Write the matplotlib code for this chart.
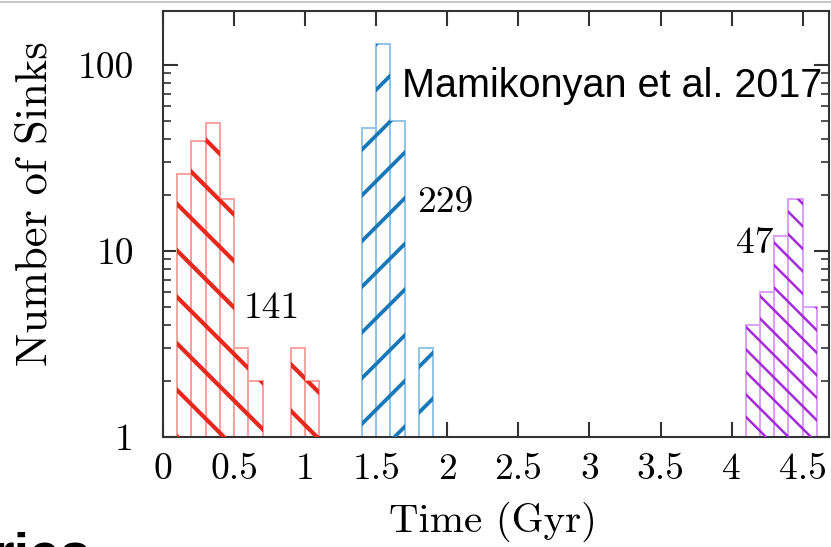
import numpy as np
import matplotlib
matplotlib.use('Agg')
import matplotlib.pyplot as plt
from matplotlib.collections import LineCollection
from matplotlib.lines import Line2D
from matplotlib.ticker import FixedLocator, FixedFormatter, LogLocator, NullFormatter

# histogram data (bin left edges in Gyr, counts)
red_left = [0.1, 0.2, 0.3, 0.4, 0.5, 0.6, 0.9, 1.0]
red_counts = [26, 39, 49, 19, 3, 2, 3, 2]
blue_left = [1.4, 1.5, 1.6, 1.8]
blue_counts = [46, 130, 50, 3]
purple_left = [4.1, 4.2, 4.3, 4.4, 4.5]
purple_counts = [4, 6, 12, 19, 5]
bin_width = 0.1

xtick_vals = [0, 0.5, 1, 1.5, 2, 2.5, 3, 3.5, 4, 4.5]
xtick_labels = ['0', '0.5', '1', '1.5', '2', '2.5', '3', '3.5', '4', '4.5']
ytick_vals = [1, 10, 100]
ytick_labels = ['1', '10', '100']

plt.rcParams['font.family'] = 'cmr10'

W, H = 831, 547
fig = plt.figure(figsize=(W / 100, H / 100), dpi=100)
ax = fig.add_axes([163 / W, 1 - 437 / H, 666 / W, 426 / H])
ax.set_yscale('log')
ax.set_xlim(0, 4.685)
ax.set_ylim(1, 195)

groups = [
    # left, counts, edge colour, hatch colour, slope, spacing px, phase, hatch lw
    (red_left, red_counts, '#f6a3a0', '#e8271d', -1.0, 46.5, 520.0, 3.0),
    (blue_left, blue_counts, '#92c3e6', '#1777b7', 1.0, 45.7, -56.0, 2.7),
    (purple_left, purple_counts, '#dca0f4', '#a42bd8', -1.0, 22.5, 966.0, 1.8),
]

for left, counts, ec, hc, s, d, c0, hlw in groups:
    counts = np.array(counts, dtype=float)
    bars = ax.bar(left, counts - 1, bottom=1, width=bin_width, align='edge',
                  facecolor='none', edgecolor=ec, linewidth=1.4, zorder=2)
    for b in bars:
        (x1, yb), (x2, yt) = ax.transData.transform(
            [(b.get_x(), b.get_y()), (b.get_x() + b.get_width(), b.get_y() + b.get_height())])
        lo = yb - max(s * x1, s * x2)
        hi = yt - min(s * x1, s * x2)
        segs = []
        for k in range(int(np.floor((lo - c0) / d)) - 1, int(np.ceil((hi - c0) / d)) + 2):
            c = c0 + k * d
            p = ax.transData.inverted().transform([(x1 - 5, c + s * (x1 - 5)), (x2 + 5, c + s * (x2 + 5))])
            segs.append(p)
        lc = LineCollection(segs, colors=hc, linewidths=hlw, zorder=3, capstyle='butt')
        ax.add_collection(lc)
        lc.set_clip_path(b)

# axes styling
for sp in ax.spines.values():
    sp.set_color('#333333')
    sp.set_linewidth(1.5)
ax.xaxis.set_major_locator(FixedLocator(xtick_vals))
ax.xaxis.set_major_formatter(FixedFormatter(xtick_labels))
ax.yaxis.set_major_locator(FixedLocator(ytick_vals))
ax.yaxis.set_major_formatter(FixedFormatter(ytick_labels))
ax.yaxis.set_minor_locator(LogLocator(base=10, subs=np.arange(2, 10)))
ax.yaxis.set_minor_formatter(NullFormatter())
ax.tick_params(which='both', direction='in', top=True, right=True, color='#333333')
ax.tick_params(which='major', length=11, width=1.5, labelsize=27)
ax.tick_params(which='minor', length=6, width=1.2)
ax.tick_params(axis='x', pad=11)
ax.tick_params(axis='y', pad=21)

ax.set_xlabel('Time (Gyr)', fontsize=29.5, va='center')
ax.xaxis.set_label_coords(0.495, -0.2)
ax.set_ylabel('Number of Sinks', fontsize=32, va='center')
ax.yaxis.set_label_coords(-0.192, 0.547)

ax.text(0.566, 4.35, '141', fontsize=27, va='baseline')
ax.text(1.789, 16.3, '229', fontsize=27, va='baseline')
ax.text(4.032, 9.72, '47', fontsize=27, va='baseline')
ax.text(1.684, 67.5, 'Mamikonyan et al. 2017', fontsize=28.5, va='baseline',
        family='Liberation Sans', zorder=5)

# slide remnants: top border line and cut-off heading
fig.add_artist(Line2D([0, 1], [1 - 2 / H, 1 - 2 / H], transform=fig.transFigure,
                      color='#c8c8c8', linewidth=1.5))
fig.text(-8 / W, -24 / H, 'ries', fontsize=40, weight='bold', family='Liberation Sans',
         va='baseline')

fig.savefig('out.png', dpi=100)
